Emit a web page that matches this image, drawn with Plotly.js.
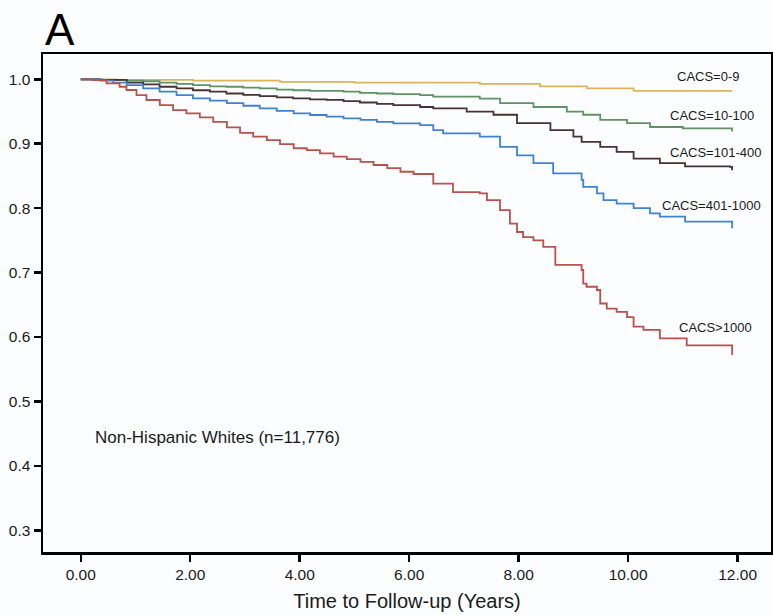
<!DOCTYPE html>
<html>
<head>
<meta charset="utf-8">
<script src="https://cdn.plot.ly/plotly-3.0.1.min.js"></script>
<style>html,body{margin:0;padding:0;background:#fcfdfe;}#chart{width:773px;height:615px;}</style>
</head>
<body>
<div id="chart"></div>
<script>
// CACS = 0-9
const t0_9 = [0, 0.65, 2.05, 3.64, 5.0, 7.29, 8.39, 9.25, 10.1, 11.9];
const s0_9 = [1.0, 0.999, 0.998, 0.996, 0.995, 0.993, 0.989, 0.986, 0.982, 0.982];
// CACS = 10-100
const t10_100 = [0, 0.4, 0.84, 1.14, 1.44, 1.75, 2.05, 2.36, 2.66, 2.97, 3.27, 3.58, 3.88, 4.19, 4.49, 4.80, 5.10, 5.41, 5.71, 6.2, 6.44, 7.29, 7.66, 8.27, 8.88, 9.18, 9.49, 9.98, 10.4, 11.0, 11.86, 11.9];
const s10_100 = [1.0, 0.999, 0.998, 0.997, 0.995, 0.993, 0.991, 0.989, 0.9885, 0.987, 0.986, 0.984, 0.983, 0.982, 0.982, 0.981, 0.979, 0.978, 0.977, 0.9756, 0.973, 0.970, 0.963, 0.957, 0.950, 0.945, 0.937, 0.932, 0.926, 0.924, 0.924, 0.919];
// CACS = 101-400
const t101_400 = [0, 0.35, 0.84, 1.14, 1.44, 1.75, 2.05, 2.36, 2.66, 2.97, 3.27, 3.58, 3.88, 4.19, 4.49, 4.80, 5.10, 5.41, 5.71, 6.2, 6.44, 7.05, 7.54, 7.97, 8.58, 9.0, 9.15, 9.49, 9.79, 10.1, 10.58, 11.04, 11.86, 11.9];
const s101_400 = [1.0, 0.999, 0.995, 0.992, 0.9885, 0.986, 0.983, 0.981, 0.978, 0.976, 0.974, 0.972, 0.9705, 0.969, 0.968, 0.966, 0.964, 0.962, 0.960, 0.957, 0.955, 0.950, 0.945, 0.932, 0.921, 0.911, 0.903, 0.895, 0.8875, 0.877, 0.870, 0.865, 0.864, 0.859];
// CACS = 401-1000
const t401_1000 = [0, 0.35, 0.59, 0.84, 1.14, 1.44, 1.75, 2.05, 2.36, 2.67, 2.97, 3.27, 3.58, 3.89, 4.19, 4.49, 4.80, 5.11, 5.41, 5.71, 6.2, 6.44, 6.62, 7.29, 7.66, 7.97, 8.27, 8.63, 9.06, 9.15, 9.18, 9.43, 9.55, 9.79, 10.1, 10.4, 10.58, 11.04, 11.86, 11.9];
const s401_1000 = [1.0, 0.998, 0.995, 0.991, 0.986, 0.981, 0.9756, 0.9705, 0.967, 0.963, 0.959, 0.955, 0.951, 0.947, 0.9446, 0.942, 0.9394, 0.937, 0.934, 0.9317, 0.929, 0.921, 0.916, 0.911, 0.895, 0.882, 0.870, 0.854, 0.854, 0.844, 0.833, 0.823, 0.8125, 0.807, 0.800, 0.792, 0.787, 0.779, 0.779, 0.769];
// CACS > 1000
const t1000 = [0, 0.225, 0.47, 0.71, 0.835, 1.018, 1.20, 1.444, 1.687, 1.93, 2.175, 2.42, 2.67, 2.91, 3.15, 3.40, 3.64, 3.89, 4.13, 4.37, 4.62, 4.86, 5.11, 5.35, 5.60, 5.84, 6.08, 6.44, 6.80, 7.29, 7.42, 7.66, 7.84, 7.97, 8.08, 8.27, 8.45, 8.67, 9.06, 9.15, 9.18, 9.24, 9.43, 9.49, 9.61, 9.79, 9.98, 10.10, 10.28, 10.58, 11.04, 11.07, 11.86, 11.9];
const s1000 = [1.0, 0.9989, 0.9938, 0.9885, 0.9834, 0.9756, 0.9679, 0.960, 0.9523, 0.947, 0.941, 0.934, 0.9255, 0.917, 0.911, 0.9057, 0.8995, 0.893, 0.890, 0.885, 0.880, 0.876, 0.872, 0.867, 0.862, 0.8565, 0.853, 0.838, 0.825, 0.823, 0.8125, 0.797, 0.776, 0.763, 0.755, 0.750, 0.740, 0.712, 0.712, 0.704, 0.683, 0.678, 0.673, 0.652, 0.644, 0.639, 0.631, 0.616, 0.611, 0.598, 0.598, 0.587, 0.587, 0.572];

const seriesNames = ["CACS=0-9", "CACS=10-100", "CACS=101-400", "CACS=401-1000", "CACS>1000"];
const xTickVals = [0, 2, 4, 6, 8, 10, 12];
const xTickText = ["0.00", "2.00", "4.00", "6.00", "8.00", "10.00", "12.00"];
const yTickVals = [0.3, 0.4, 0.5, 0.6, 0.7, 0.8, 0.9, 1.0];
const yTickText = ["0.3", "0.4", "0.5", "0.6", "0.7", "0.8", "0.9", "1.0"];
const labelX = [11.46, 11.53, 11.59, 11.53, 11.59];
const labelY = [1.004, 0.9446, 0.886, 0.804, 0.615];

const colors = ["#dcb45c", "#5f9363", "#4a3232", "#3f82d2", "#b9524c"];
const xs = [t0_9, t10_100, t101_400, t401_1000, t1000];
const ys = [s0_9, s10_100, s101_400, s401_1000, s1000];

const FONT = "Liberation Sans, Arial, sans-serif";

const traces = xs.map((x, i) => ({
  x: x, y: ys[i], type: "scatter", mode: "lines", name: seriesNames[i],
  line: {shape: "hv", color: colors[i], width: 1.8},
  showlegend: false, hoverinfo: "skip"
}));

const annotations = seriesNames.map((n, i) => ({
  x: labelX[i], y: labelY[i], xref: "x", yref: "y", text: n, showarrow: false,
  xanchor: "center", yanchor: "middle", font: {family: FONT, size: 13, color: "#1a1a1a"}
}));
annotations.push({x: 0.22, y: 0.4445, xref: "x", yref: "y", text: "Non-Hispanic Whites (n=11,776)",
  showarrow: false, xanchor: "left", yanchor: "middle", font: {family: FONT, size: 17, color: "#1a1a1a"}});
annotations.push({x: 0, y: 1.05, xref: "paper", yref: "paper", text: "A", showarrow: false,
  xanchor: "left", yanchor: "middle", font: {family: FONT, size: 44, color: "#000"}});

const layout = {
  width: 773, height: 615,
  margin: {l: 43, r: 2, t: 54, b: 63},
  paper_bgcolor: "#fcfdfe", plot_bgcolor: "#fcfdfe",
  font: {family: FONT, color: "#1a1a1a"},
  xaxis: {
    range: [-0.69, 12.61], tickvals: xTickVals, ticktext: xTickText,
    showgrid: false, zeroline: false, showline: true, mirror: true,
    linecolor: "#000", linewidth: 2.5, ticks: "outside", ticklen: 7, tickwidth: 2.5, tickcolor: "#000",
    tickfont: {family: FONT, size: 15.5, color: "#1a1a1a"},
    title: {text: "Time to Follow-up (Years)", font: {family: FONT, size: 20, color: "#1a1a1a"}, standoff: 12}
  },
  yaxis: {
    range: [0.2663, 1.0393], tickvals: yTickVals, ticktext: yTickText,
    showgrid: false, zeroline: false, showline: true, mirror: true,
    linecolor: "#000", linewidth: 2.5, ticks: "outside", ticklen: 7, tickwidth: 2.5, tickcolor: "#000",
    tickfont: {family: FONT, size: 15.5, color: "#1a1a1a"}
  },
  annotations: annotations
};

Plotly.newPlot("chart", traces, layout, {displayModeBar: false, staticPlot: true});
</script>
</body>
</html>
